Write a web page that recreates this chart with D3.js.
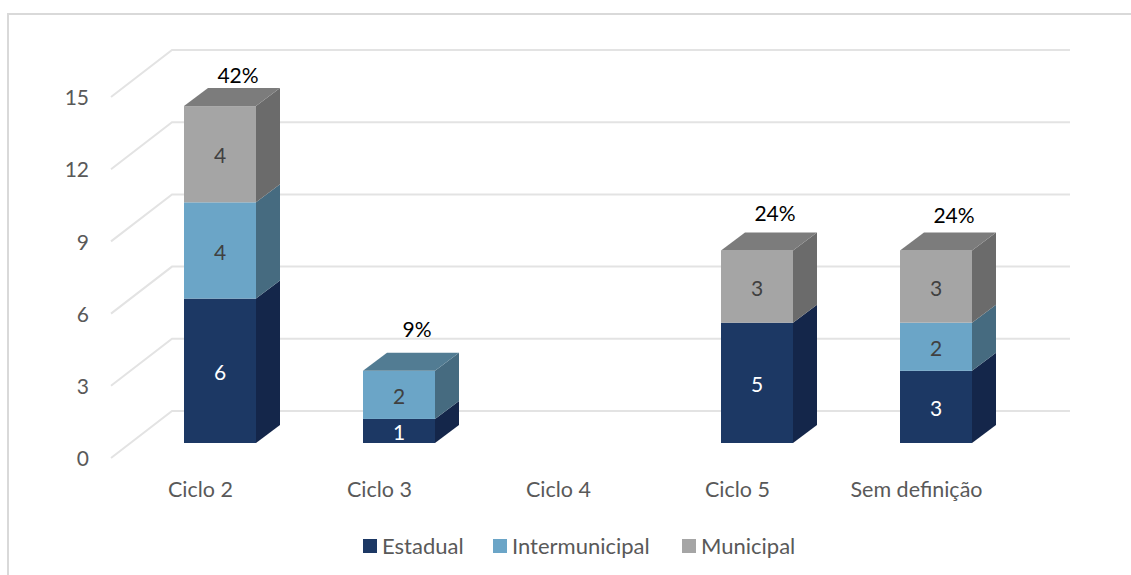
<!DOCTYPE html>
<html>
<head>
<meta charset="utf-8">
<script src="https://cdn.jsdelivr.net/npm/d3@7"></script>
<style>
html, body { margin: 0; padding: 0; background: #fff; }
svg { display: block; font-family: Lato, "Open Sans", sans-serif; }
</style>
</head>
<body>
<div class="canvas"></div>
<script>
const categories = ["Ciclo 2", "Ciclo 3", "Ciclo 4", "Ciclo 5", "Sem definição"]
const seriesNames = ["Estadual", "Intermunicipal", "Municipal"]
const estadual = [6, 1, 0, 5, 3]
const intermunicipal = [4, 2, 0, 0, 2]
const municipal = [4, 0, 0, 3, 3]
const percentLabels = ["42%", "9%", "", "24%", "24%"]
const yTicks = [0, 3, 6, 9, 12, 15]

const width = 1131
const height = 575

// floor depth of the fake 3d plot, and of the bars inside it
const wall = { dx: 61, dy: -47 }
const barShift = { dx: 19.5, dy: -15 }
const depth = { dx: 24, dy: -18 }
const barWidth = 72

const colors = {
    Estadual: { front: "#1c3864", side: "#14264a", top: "#14264a", text: "#ffffff" },
    Intermunicipal: { front: "#6ba5c7", side: "#466b80", top: "#527c93", text: "#404040" },
    Municipal: { front: "#a5a5a5", side: "#6b6b6b", top: "#7c7c7c", text: "#404040" }
}
// how high each total sits above its bar, they are not even in the original
const percentLift = [13, 23, 0, 19, 17]

const svg = d3.select(".canvas")
    .append("svg")
    .attr("width", width)
    .attr("height", height)

svg.append("path")
    .attr("d", `M8,${height} V14 H${width}`)
    .attr("fill", "none")
    .attr("stroke", "#d9d9d9")
    .attr("stroke-width", 2)

const scaleX = d3.scaleBand()
    .domain(categories)
    .range([111, 1006])

const scaleY = d3.scaleLinear()
    .domain([0, 15])
    .range([458, 97])

const rows = categories.map((c, i) => ({
    category: c,
    Estadual: estadual[i],
    Intermunicipal: intermunicipal[i],
    Municipal: municipal[i]
}))
const stacked = d3.stack().keys(seriesNames)(rows)

// gridlines run up the side wall then along the back wall
svg.append("g")
    .selectAll("path")
    .data(yTicks)
    .enter()
    .append("path")
    .attr("d", d => `M111,${scaleY(d)} l${wall.dx},${wall.dy} H1070`)
    .attr("fill", "none")
    .attr("stroke", "#e3e3e3")
    .attr("stroke-width", 2)

const yAxisGroup = svg.append("g")
    .attr("transform", "translate(97, 1)")
    .call(d3.axisLeft(scaleY).tickValues(yTicks).tickSize(0).tickPadding(8))
yAxisGroup.select(".domain").remove()
yAxisGroup.selectAll("text")
    .attr("font-family", "Lato, 'Open Sans', sans-serif")
    .attr("font-size", 21)
    .attr("fill", "#595959")

const xAxisGroup = svg.append("g")
    .attr("transform", "translate(0, 482)")
    .call(d3.axisBottom(scaleX).tickSize(0).tickPadding(0))
xAxisGroup.select(".domain").remove()
xAxisGroup.selectAll("text")
    .attr("font-family", "Lato, 'Open Sans', sans-serif")
    .attr("font-size", 21.5)
    .attr("fill", "#595959")

const barLeft = d => scaleX(d.data.category) + scaleX.bandwidth() / 2 + barShift.dx - barWidth / 2
const barY = v => scaleY(v) + barShift.dy

stacked.forEach(layer => {
    const col = colors[layer.key]
    const g = svg.append("g")
    const segs = layer.filter(d => d[1] > d[0])

    g.selectAll(".side")
        .data(segs)
        .enter()
        .append("path")
        .attr("d", d => {
            const x = barLeft(d) + barWidth
            return `M${x},${barY(d[0])} l${depth.dx},${depth.dy} V${barY(d[1]) + depth.dy} L${x},${barY(d[1])} Z`
        })
        .attr("fill", col.side)

    g.selectAll(".front")
        .data(segs)
        .enter()
        .append("rect")
        .attr("x", barLeft)
        .attr("y", d => barY(d[1]))
        .attr("width", barWidth)
        .attr("height", d => barY(d[0]) - barY(d[1]))
        .attr("fill", col.front)

    // only the highest segment of a bar shows its top
    g.selectAll(".top")
        .data(segs.filter(d => d[1] === d3.sum(seriesNames, k => d.data[k])))
        .enter()
        .append("path")
        .attr("d", d => `M${barLeft(d)},${barY(d[1])} l${depth.dx},${depth.dy} h${barWidth} l${-depth.dx},${-depth.dy} Z`)
        .attr("fill", col.top)

    g.selectAll("text")
        .data(segs)
        .enter()
        .append("text")
        .attr("x", d => barLeft(d) + barWidth / 2)
        .attr("y", d => (barY(d[0]) + barY(d[1])) / 2 + 1.5)
        .attr("dy", "0.36em")
        .attr("text-anchor", "middle")
        .attr("font-size", 21)
        .attr("fill", col.text)
        .text(d => d[1] - d[0])
})

// totals above the bars
svg.append("g")
    .selectAll("text")
    .data(rows)
    .enter()
    .append("text")
    .attr("x", d => scaleX(d.category) + scaleX.bandwidth() / 2 + barShift.dx + 18)
    .attr("y", (d, i) => barY(d3.sum(seriesNames, k => d[k])) + depth.dy - percentLift[i])
    .attr("dy", "0.36em")
    .attr("text-anchor", "middle")
    .attr("font-size", 21)
    .attr("fill", "#000")
    .text((d, i) => percentLabels[i])

// legend
const legendX = [363, 493, 682]
const legend = svg.append("g")
    .selectAll("g")
    .data(seriesNames)
    .enter()
    .append("g")
    .attr("transform", (d, i) => `translate(${legendX[i]}, 539)`)
legend.append("rect")
    .attr("width", 14)
    .attr("height", 14)
    .attr("fill", d => colors[d].front)
legend.append("text")
    .attr("x", 19)
    .attr("y", 7)
    .attr("dy", "0.36em")
    .attr("font-size", 22)
    .attr("fill", "#595959")
    .text(d => d)
</script>
</body>
</html>
